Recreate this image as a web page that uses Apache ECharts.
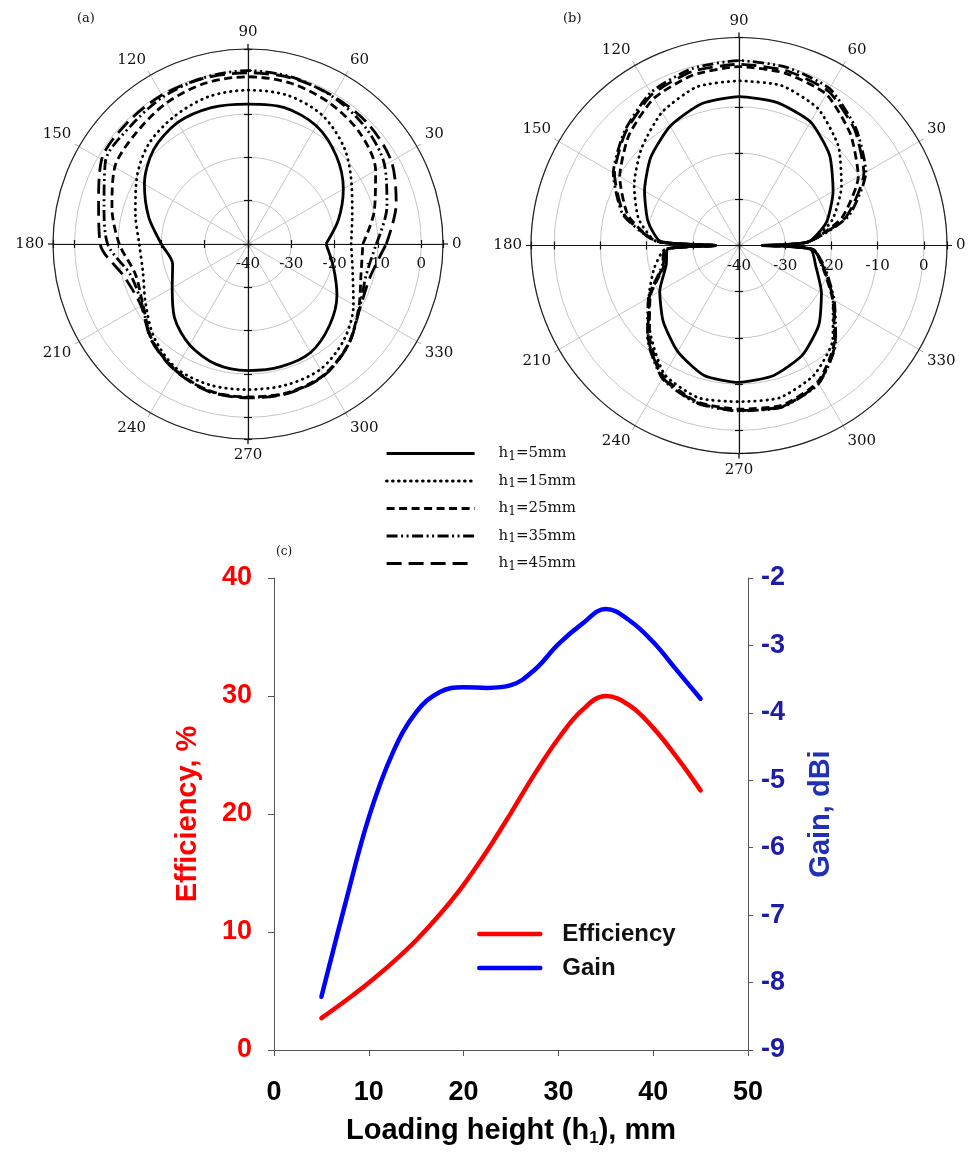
<!DOCTYPE html>
<html>
<head>
<meta charset="utf-8">
<script src="https://cdn.jsdelivr.net/npm/echarts@6/dist/echarts.min.js"></script>
<style>
  html, body { margin: 0; padding: 0; background: #fff; }
  #chart { width: 970px; height: 1161px; }
</style>
</head>
<body>
<div id="chart"></div>
<script>
// ---- Radiation patterns (dB) versus azimuth angle (deg) ----
// Panel (a)
const anglesA = [0, 15, 30, 45, 60, 75, 90, 105, 120, 135, 150, 165, 180, 195, 210, 225, 240, 255, 270, 285, 300, 315, 330, 345];
const patA_h5  = [-22, -18.4, -14.6, -11.2, -8.5, -7.4, -7.7, -7.4, -7.6, -9.2, -12.4, -16.3, -20, -22, -19.8, -16.0, -13.1, -11.3, -10.8, -10.7, -11.1, -13.4, -16.3, -19.6];
const patA_h15 = [-16.2, -15.1, -12.4, -8.6, -5.7, -4.5, -4.5, -4.8, -6.0, -7.5, -10.3, -13.1, -14.9, -14.9, -12.7, -9.4, -6.9, -6.3, -6.4, -6.3, -6.6, -8.7, -11.9, -15.0];
const patA_h25 = [-13.5, -9.8, -6.0, -3.6, -2.4, -1.6, -1.4, -1.6, -2.4, -3.6, -4.5, -7.5, -10.3, -13.1, -12.0, -8.7, -6.5, -5.0, -4.7, -4.5, -5.1, -7.3, -10.5, -13.0];
const patA_h35 = [-10.4, -6.8, -3.6, -1.8, -0.8, -0.2, 0, -0.3, -0.8, -1.6, -2.0, -5.6, -7.6, -12.0, -11.8, -8.6, -6.4, -4.9, -4.6, -4.4, -5.0, -7.2, -10.3, -11.8];
const patA_h45 = [-8.1, -4.6, -1.8, -0.8, -0.6, -0.4, -0.5, -0.4, -0.3, -0.5, -1.0, -4.3, -5.9, -10.5, -11.5, -8.5, -6.3, -4.8, -4.5, -4.3, -4.9, -7.2, -10.2, -10.8];

// Panel (b)
const anglesB = [0, 3, 15, 30, 45, 60, 75, 90, 105, 120, 135, 150, 165, 177, 180, 183, 195, 210, 225, 240, 255, 270, 285, 300, 315, 330, 345, 357];
const patB_h5  = [-35, -25, -20.4, -16.5, -12.3, -9.1, -8.0, -7.8, -8.3, -10.2, -13.0, -16.4, -19.6, -23, -35, -24.5, -23.7, -20.2, -16.8, -13.5, -10.9, -10.4, -10.9, -12.6, -15.6, -19.4, -22.8, -24.5];
const patB_h15 = [-35, -25, -19.2, -14.4, -9.6, -5.8, -4.2, -4.4, -4.5, -6.7, -10.2, -13.8, -17.5, -22, -35, -24, -21, -17.5, -12.9, -7.8, -5.9, -6.2, -5.9, -7.6, -11.3, -16.5, -21, -24];
const patB_h25 = [-35, -25, -17, -10.2, -5.9, -2.2, -1.4, -1.3, -1.8, -3.2, -6.3, -10.2, -15.2, -22, -35, -24, -23.2, -17.8, -12.6, -7.3, -5.0, -4.6, -4.2, -5.9, -10.8, -16.6, -21.2, -24];
const patB_h35 = [-35, -25, -15.5, -8.3, -4.2, -0.8, -0.1, 0, -0.4, -1.8, -5.0, -8.6, -14.0, -22, -35, -24, -22.8, -17.4, -12.0, -6.8, -4.7, -4.2, -3.8, -5.5, -10.4, -16.2, -20.7, -24];
const patB_h45 = [-35, -25, -16, -8.8, -4.6, -1.4, -0.8, -0.8, -1.0, -2.3, -5.3, -8.9, -14.3, -22, -35, -24, -23.0, -17.6, -12.2, -7.0, -4.8, -4.3, -3.9, -5.6, -10.5, -16.4, -21.0, -24];

const caseNames = ['h1=5mm', 'h1=15mm', 'h1=25mm', 'h1=35mm', 'h1=45mm'];

// ---- Efficiency and gain versus loading height ----
const heights    = [5, 7.5, 10, 12.5, 15, 17.5, 20, 22.5, 25, 27.5, 30, 32.5, 35, 37.5, 40, 42.5, 45];
const efficiency = [2.7, 4.15, 5.7, 7.4, 9.3, 11.5, 14.0, 16.9, 20.1, 23.4, 26.4, 28.8, 30.0, 29.2, 27.3, 24.8, 22.0];
const gainDBi    = [-8.21, -6.84, -5.55, -4.6, -3.99, -3.69, -3.62, -3.63, -3.59, -3.36, -2.98, -2.68, -2.46, -2.63, -2.95, -3.37, -3.79];

// ---- styling ----
const SERIF = '"DejaVu Serif", "Liberation Serif", serif';
const SANS = '"Liberation Sans", Arial, sans-serif';
const dashStyles = ['solid', [0.5, 5.5], [8, 4.5], [11, 3.5, 2, 3.5, 2, 3.5], [15, 7]];

// pattern value list + angle list -> closed [r, angle] loop
function loop(values, angles) {
  const pts = values.map((v, i) => [v, angles[i]]);
  pts.push([values[0], 360]);
  return pts;
}

const panels = [
  { center: [248, 244], radius: 195, angles: anglesA, patterns: [patA_h5, patA_h15, patA_h25, patA_h35, patA_h45], smooth: 0.3 },
  { center: [739, 245.5], radius: 208, angles: anglesB, patterns: [patB_h5, patB_h15, patB_h25, patB_h35, patB_h45], smooth: 0.2 }
];

const polar = [], angleAxis = [], radiusAxis = [], series = [];

panels.forEach(p => {
  const main = polar.length;
  polar.push({ center: p.center, radius: p.radius });
  angleAxis.push({
    polarIndex: main, type: 'value', min: 0, max: 360, interval: 30,
    startAngle: 0, clockwise: false, z: 1,
    axisLine: { show: true, lineStyle: { color: '#222', width: 1.2 } },
    axisTick: { show: true, length: 5, lineStyle: { color: '#aaa' } },
    axisLabel: { show: true, margin: 9, fontFamily: SERIF, fontSize: 15, color: '#111' },
    splitLine: { show: true, lineStyle: { color: '#c6c6c6', width: 1 } }
  });
  radiusAxis.push({
    polarIndex: main, type: 'value', min: -40, max: 5, interval: 10, z: 1,
    axisLine: { show: false }, axisTick: { show: false },
    axisLabel: {
      show: true, margin: -13, verticalAlign: 'top', fontFamily: SERIF, fontSize: 15, color: '#111',
      formatter: v => (v > 0 ? '' : String(v))
    },
    splitLine: { show: true, lineStyle: { color: '#c6c6c6', width: 1 } }
  });
  // dark cross axes with ticks on both sides
  [0, 90, 180, 270].forEach(dir => [1, -1].forEach(side => {
    const k = polar.length;
    polar.push({ center: p.center, radius: p.radius });
    angleAxis.push({
      polarIndex: k, type: 'value', min: 0, max: 360, interval: 90,
      startAngle: dir, clockwise: false, z: 2,
      axisLine: { show: false }, axisLabel: { show: false }, splitLine: { show: false },
      axisTick: { show: dir === 0 && side === 1, length: 5, lineStyle: { color: '#111', width: 1.2 } }
    });
    radiusAxis.push({
      polarIndex: k, type: 'value', min: -40, max: 5, interval: 10, z: 2,
      axisLine: { show: side === 1, lineStyle: { color: '#111', width: 1.2 } },
      axisTick: { show: true, length: 4 * side, lineStyle: { color: '#111', width: 1.2 } },
      axisLabel: { show: false }, splitLine: { show: false }
    });
  }));
  p.patterns.forEach((vals, i) => {
    series.push({
      type: 'line', name: caseNames[i], coordinateSystem: 'polar', polarIndex: main,
      data: loop(vals, p.angles), smooth: p.smooth, symbol: 'none', z: 3,
      color: '#000', itemStyle: { color: '#000' },
      lineStyle: { color: '#000', width: 2.8, type: dashStyles[i], cap: i === 1 ? 'round' : 'butt' }
    });
  });
});

series.push({
  type: 'line', name: 'Efficiency', xAxisIndex: 0, yAxisIndex: 0,
  data: heights.map((h, i) => [h, efficiency[i]]), smooth: 0.4, symbol: 'none',
  color: '#ff0000', lineStyle: { color: '#ff0000', width: 4.5, cap: 'round' }
});
series.push({
  type: 'line', name: 'Gain', xAxisIndex: 0, yAxisIndex: 1,
  data: heights.map((h, i) => [h, gainDBi[i]]), smooth: 0.4, symbol: 'none',
  color: '#0000ff', lineStyle: { color: '#0000ff', width: 4.5, cap: 'round' }
});

const axisGrey = '#555';
const option = {
  animation: false,
  backgroundColor: '#fff',
  title: [
    { text: '(a)', left: 72, top: 7, textStyle: { fontFamily: SERIF, fontSize: 13, fontWeight: 'normal', color: '#111' } },
    { text: '(b)', left: 558, top: 7, textStyle: { fontFamily: SERIF, fontSize: 13, fontWeight: 'normal', color: '#111' } },
    { text: '(c)', left: 271, top: 541, textStyle: { fontFamily: SERIF, fontSize: 12, fontWeight: 'normal', color: '#111' } }
  ],
  legend: [
    {
      data: caseNames, orient: 'vertical', left: 385, top: 446, padding: 0,
      itemWidth: 88, itemHeight: 14, itemGap: 11, selectedMode: false,
      itemStyle: { opacity: 0 },
      lineStyle: { width: 3.2 },
      formatter: name => name.replace('h1', 'h{s|1}'),
      textStyle: {
        fontFamily: SERIF, fontSize: 15, color: '#111', padding: [0, 0, 0, 19],
        rich: { s: { fontFamily: SERIF, fontSize: 12, color: '#111', padding: [6, 0, 0, 0] } }
      }
    },
    {
      data: ['Efficiency', 'Gain'], orient: 'vertical', left: 477, top: 922, padding: 0,
      itemWidth: 61, itemHeight: 14, itemGap: 10, selectedMode: false,
      itemStyle: { opacity: 0 },
      lineStyle: { width: 4.5 },
      textStyle: { fontFamily: SANS, fontSize: 24, fontWeight: 'bold', color: '#111', padding: [0, 0, 0, 17] }
    }
  ],
  polar, angleAxis, radiusAxis,
  grid: { left: 274, right: 222, top: 578, bottom: 111 },
  xAxis: {
    type: 'value', min: 0, max: 50, interval: 10,
    axisLine: { show: true, lineStyle: { color: axisGrey, width: 1 } },
    axisTick: { show: true, length: 6, lineStyle: { color: axisGrey } },
    axisLabel: { fontFamily: SANS, fontSize: 27, fontWeight: 'bold', color: '#000', margin: 29 },
    splitLine: { show: false },
    name: 'Loading height (h{s|1}), mm', nameLocation: 'middle', nameGap: 64,
    nameTextStyle: {
      fontFamily: SANS, fontSize: 29, fontWeight: 'bold', color: '#000',
      rich: { s: { fontFamily: SANS, fontSize: 17, fontWeight: 'bold', color: '#000', padding: [16, 0, 0, 0] } }
    }
  },
  yAxis: [
    {
      type: 'value', min: 0, max: 40, interval: 10, position: 'left',
      axisLine: { show: true, lineStyle: { color: axisGrey, width: 1 } },
      axisTick: { show: true, length: 6, lineStyle: { color: axisGrey } },
      axisLabel: { fontFamily: SANS, fontSize: 27, fontWeight: 'bold', color: '#ff0000', margin: 22 },
      splitLine: { show: false },
      name: 'Efficiency, %', nameLocation: 'middle', nameGap: 72,
      nameTextStyle: { fontFamily: SANS, fontSize: 29, fontWeight: 'bold', color: '#ff0000' }
    },
    {
      type: 'value', min: -9, max: -2, interval: 1, position: 'right',
      axisLine: { show: true, lineStyle: { color: axisGrey, width: 1 } },
      axisTick: { show: true, length: 5, lineStyle: { color: axisGrey } },
      axisLabel: { fontFamily: SANS, fontSize: 27, fontWeight: 'bold', color: '#1c1ca6', margin: 13 },
      splitLine: { show: false },
      name: 'Gain, dBi', nameLocation: 'middle', nameGap: 58, nameRotate: 90,
      nameTextStyle: { fontFamily: SANS, fontSize: 29, fontWeight: 'bold', color: '#2030b8' }
    }
  ],
  series
};

const chart = echarts.init(document.getElementById('chart'), null, { renderer: 'canvas' });
chart.setOption(option);
</script>
</body>
</html>
